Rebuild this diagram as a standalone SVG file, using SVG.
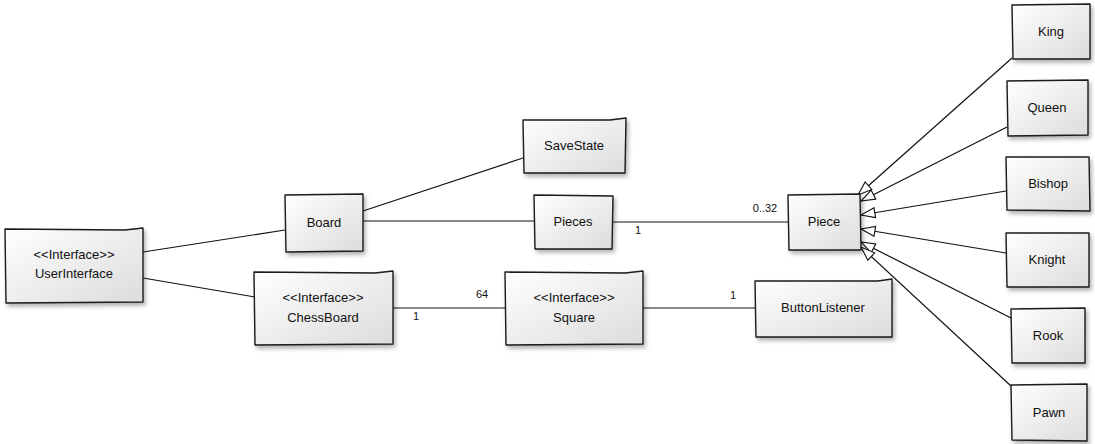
<svg xmlns="http://www.w3.org/2000/svg" width="1095" height="444" viewBox="0 0 1095 444">
<style>
.box{fill:url(#g);stroke:#1a1a1a;stroke-width:1.4;stroke-linejoin:round;filter:url(#sh)}
.t{font-family:"Liberation Sans",Arial,sans-serif;font-size:13px;fill:#111;text-anchor:middle}
.lbl{font-family:"Liberation Sans",Arial,sans-serif;font-size:11px;fill:#111;text-anchor:middle}
.c line{stroke:#111;stroke-width:1.2;fill:none}
.inh{marker-end:url(#tri)}
</style>
<defs>
<linearGradient id="g" x1="0" y1="0" x2="1" y2="1">
<stop offset="0" stop-color="#ffffff"/>
<stop offset="1" stop-color="#dcdcdc"/>
</linearGradient>
<filter id="sh" x="-10%" y="-10%" width="130%" height="140%">
<feDropShadow dx="2" dy="3" stdDeviation="2" flood-color="#000" flood-opacity="0.3"/>
</filter>
<marker id="tri" markerUnits="userSpaceOnUse" markerWidth="16" markerHeight="12" refX="15" refY="6" orient="auto" viewBox="0 0 16 12">
<path d="M1,1 L15,6 L1,11 Z" fill="#fff" stroke="#111" stroke-width="1.1"/>
</marker>
</defs>
<rect width="1095" height="444" fill="#fff"/>
<g class="c" id="connectors">
<line x1="143" y1="252" x2="285" y2="230"/>
<line x1="143" y1="278" x2="255" y2="297"/>
<line x1="363" y1="211" x2="523" y2="158"/>
<line x1="363" y1="221" x2="534" y2="221"/>
<line x1="613" y1="222" x2="788" y2="222"/>
<line x1="393" y1="308" x2="505" y2="308"/>
<line x1="643" y1="308" x2="755" y2="308"/>
<line class="inh" x1="1012" y1="58" x2="858" y2="195"/>
<line class="inh" x1="1007" y1="127" x2="861" y2="201"/>
<line class="inh" x1="1006" y1="191" x2="861" y2="215"/>
<line class="inh" x1="1006" y1="253" x2="861" y2="229"/>
<line class="inh" x1="1011" y1="318" x2="861" y2="242"/>
<line class="inh" x1="1011" y1="386" x2="861" y2="247"/>
<text class="lbl" x="638" y="234">1</text>
<text class="lbl" x="765" y="212">0..32</text>
<text class="lbl" x="416" y="320">1</text>
<text class="lbl" x="482" y="298">64</text>
<text class="lbl" x="733" y="299">1</text>
</g>
<g id="UserInterface"><path class="box" d="M5,229 L125,230 L143,228 L143,302 L6,303 Z"/><text class="t" x="74" y="259">&lt;&lt;Interface&gt;&gt;</text><text class="t" x="74" y="278">UserInterface</text></g>
<g id="Board"><path class="box" d="M285,195 L363,194 L363,251 L286,252 Z"/><text class="t" x="324" y="227">Board</text></g>
<g id="ChessBoard"><path class="box" d="M254,272 L375,273 L393,271 L393,344 L255,345 Z"/><text class="t" x="323" y="302">&lt;&lt;Interface&gt;&gt;</text><text class="t" x="323" y="322">ChessBoard</text></g>
<g id="SaveState"><path class="box" d="M523,120 L610,120 L626,118 L625,173 L524,173 Z"/><text class="t" x="574" y="150">SaveState</text></g>
<g id="Pieces"><path class="box" d="M534,195 L613,196 L612,249 L535,249 Z"/><text class="t" x="573" y="226">Pieces</text></g>
<g id="Square"><path class="box" d="M505,272 L625,273 L643,271 L643,344 L506,345 Z"/><text class="t" x="574" y="302">&lt;&lt;Interface&gt;&gt;</text><text class="t" x="574" y="322">Square</text></g>
<g id="Piece"><path class="box" d="M788,195 L860,194 L861,250 L789,250 Z"/><text class="t" x="824" y="226">Piece</text></g>
<g id="ButtonListener"><path class="box" d="M755,281 L878,281 L892,279 L892,337 L756,337 Z"/><text class="t" x="823" y="312">ButtonListener</text></g>
<g id="King"><path class="box" d="M1012,5 L1090,4 L1090,59 L1013,59 Z"/><text class="t" x="1051" y="36">King</text></g>
<g id="Queen"><path class="box" d="M1007,81 L1088,80 L1088,135 L1008,136 Z"/><text class="t" x="1047" y="112">Queen</text></g>
<g id="Bishop"><path class="box" d="M1006,157 L1089,157 L1090,211 L1007,210 Z"/><text class="t" x="1048" y="188">Bishop</text></g>
<g id="Knight"><path class="box" d="M1006,233 L1089,233 L1089,287 L1007,287 Z"/><text class="t" x="1047" y="264">Knight</text></g>
<g id="Rook"><path class="box" d="M1011,309 L1085,308 L1085,363 L1012,363 Z"/><text class="t" x="1048" y="340">Rook</text></g>
<g id="Pawn"><path class="box" d="M1011,385 L1087,384 L1087,441 L1012,440 Z"/><text class="t" x="1049" y="417">Pawn</text></g>
</svg>
